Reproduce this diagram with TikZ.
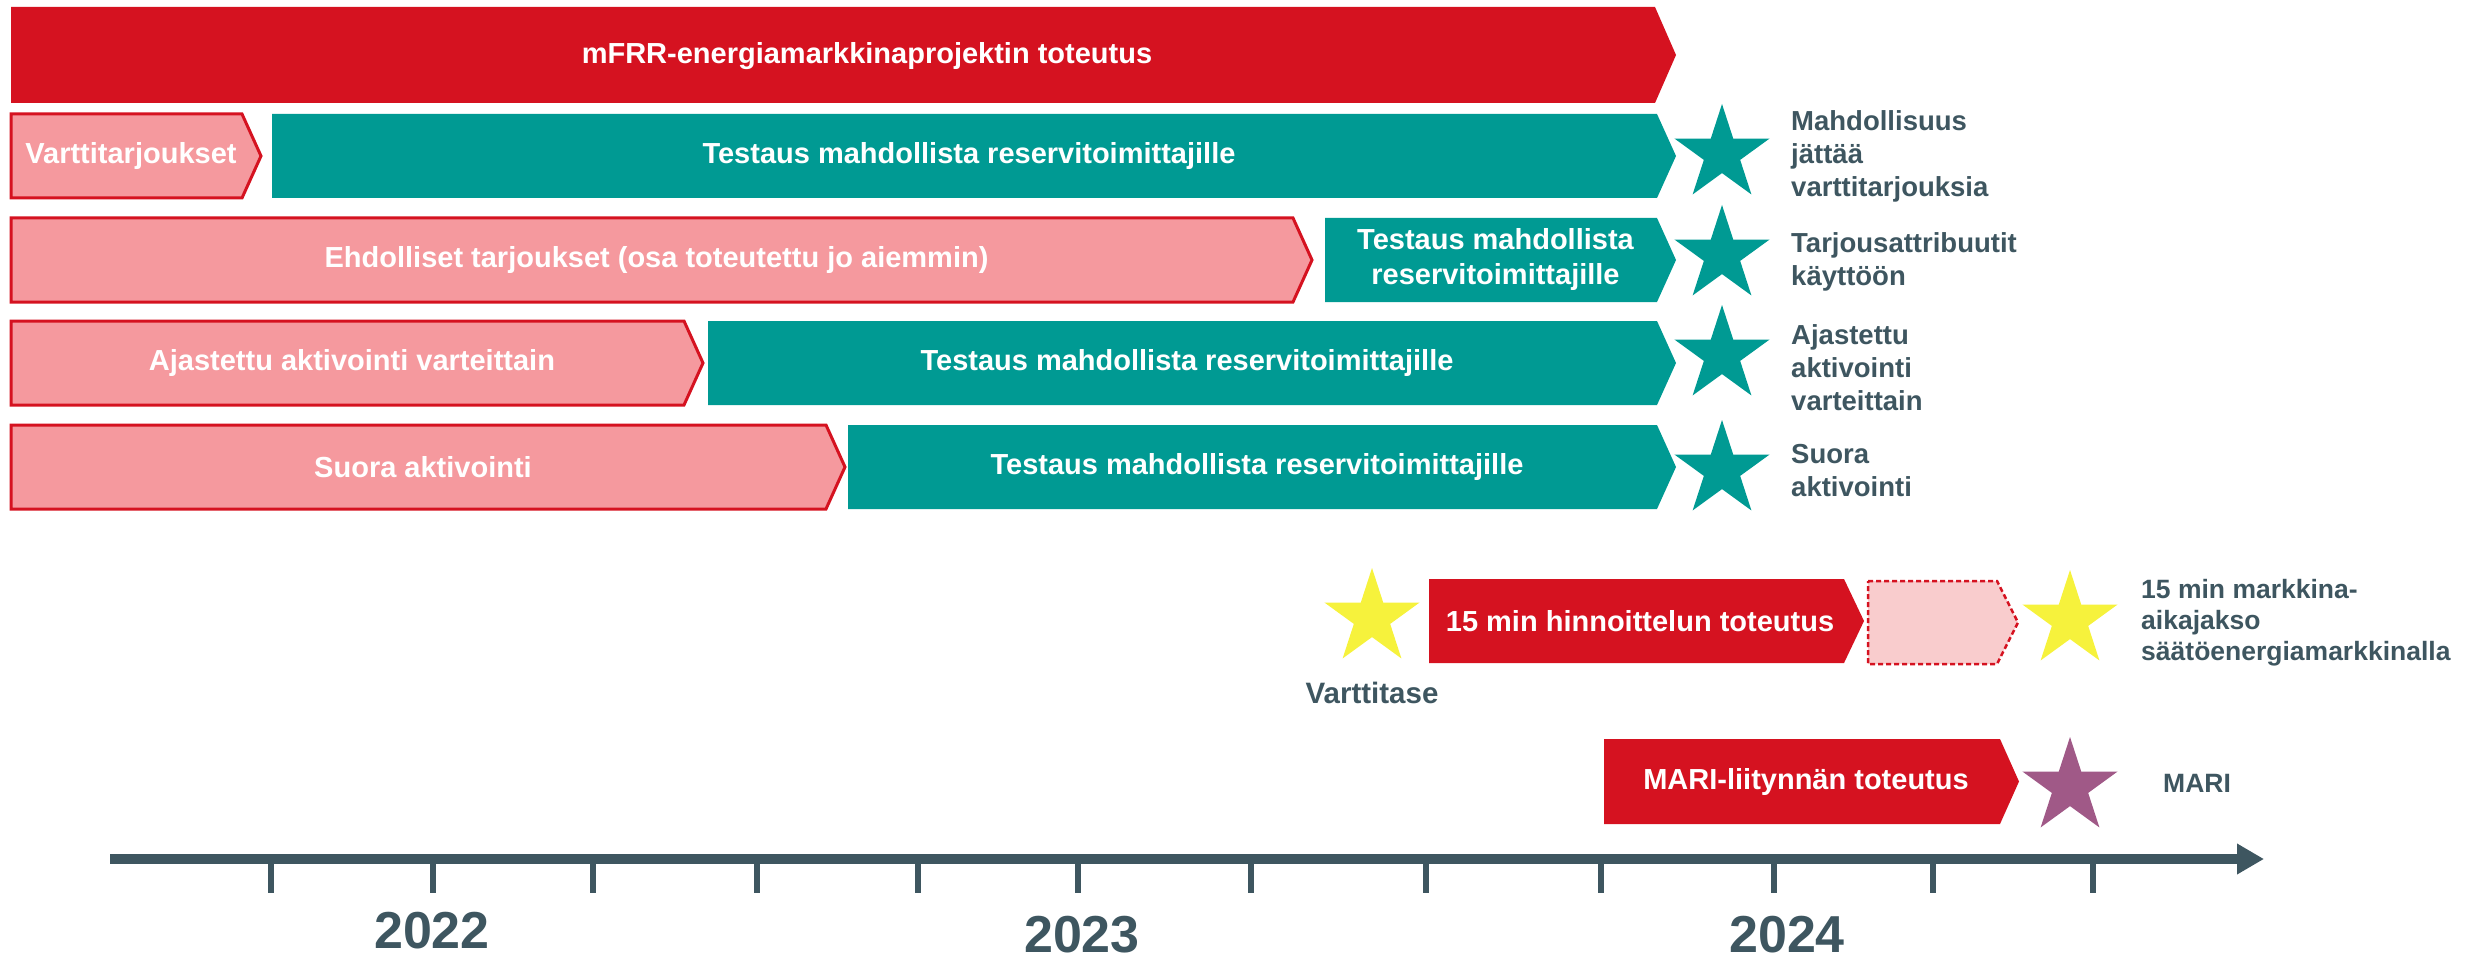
\documentclass[tikz,border=0pt]{standalone}
\usepackage{fontspec}
\setmainfont{Liberation Sans}
\usetikzlibrary{positioning, shapes.geometric, arrows.meta}
\definecolor{fgred}{RGB}{213, 18, 32}
\definecolor{fgteal}{RGB}{0, 154, 147}
\definecolor{fgpink}{RGB}{245, 153, 158}
\definecolor{fgpale}{RGB}{249, 204, 205}
\definecolor{fgyellow}{RGB}{246, 242, 60}
\definecolor{fgplum}{RGB}{160, 89, 135}
\definecolor{txtslate}{RGB}{62, 86, 96}

\begin{document}
\begin{tikzpicture}[
  x=1pt, y=-1pt,
  every node/.style={font=\bfseries},
  redbar/.style={fill=fgred, draw=none},
  tealbar/.style={fill=fgteal, draw=none},
  pinkbar/.style={fill=fgpink, draw=fgred, line width=3pt},
  palebar/.style={fill=fgpale, draw=fgred, line width=2.5pt, dash pattern=on 5pt off 3pt},
  bartxt/.style={text=white, font=\fontsize{29}{35}\selectfont\bfseries, align=center, inner sep=0pt},
  lbl/.style={text=txtslate, font=\fontsize{27.5}{33}\selectfont\bfseries, align=left, inner sep=0pt},
  lblsm/.style={lbl, font=\fontsize{26.5}{31}\selectfont\bfseries},
  yr/.style={text=txtslate, font=\fontsize{52}{60}\selectfont\bfseries, inner sep=0pt},
  mstar/.style={star, star points=5, star point ratio=2.618, minimum size=100pt,
    inner sep=0pt, fill=#1, draw=none},
  tick/.style={draw=txtslate, line width=6pt},
  axis/.style={draw=txtslate, line width=10pt, -{Triangle[length=27pt, width=29pt]}},
]

\useasboundingbox (0,0) rectangle (2468,960);

% Project bar
\draw[redbar] (11,7) -- (1655,7) -- (1676,55) -- (1655,103) -- (11,103) -- cycle;
\node[bartxt] (proj) at (867,56) {mFRR-energiamarkkinaprojektin toteutus};

% Implementation chevrons
\foreach \nm/\xb/\ya/\yb/\txt in {
  vt/242/114/198/Varttitarjoukset,
  eh/1293/218/302/{Ehdolliset tarjoukset (osa toteutettu jo aiemmin)},
  aj/684/321/405/{Ajastettu aktivointi varteittain},
  su/826/425/509/{Suora aktivointi}%
}{
  \draw[pinkbar] (11,\ya) -- (\xb,\ya) -- ({\xb+19},{(\ya+\yb)/2}) -- (\xb,\yb) -- (11,\yb) -- cycle;
  \node[bartxt] (\nm) at ({(20+\xb)/2},{(\ya+\yb)/2}) {\txt};
}

% Testing chevrons
\foreach \nm/\xa/\ya/\yb/\txt in {
  tvt/272/114/198/{Testaus mahdollista reservitoimittajille},
  teh/1325/218/302/{Testaus mahdollista\\reservitoimittajille},
  taj/708/321/405/{Testaus mahdollista reservitoimittajille},
  tsu/848/425/509/{Testaus mahdollista reservitoimittajille}%
}{
  \draw[tealbar] (\xa,\ya) -- (1657,\ya) -- (1676,{(\ya+\yb)/2}) -- (1657,\yb) -- (\xa,\yb) -- cycle;
  \node[bartxt] (\nm) at ({(\xa+1666)/2},{(\ya+\yb)/2}) {\txt};
}

% Milestones
\foreach \nm/\cy/\ly/\txt in {
  s1/154/156/{Mahdollisuus\\jättää\\varttitarjouksia},
  s2/255/262/{Tarjousattribuutit\\käyttöön},
  s3/355/368/{Ajastettu\\aktivointi\\varteittain},
  s4/470/471/{Suora\\aktivointi}%
}{
  \node[mstar=fgteal] (\nm) at (1722,\cy) {};
  \node[lbl, anchor=west] (l\nm) at (1791,\ly) {\txt};
}

% Quarter-hour pricing
\node[mstar=fgyellow] (vs) at (1372,618) {};
\node[lbl, font=\fontsize{29.5}{35}\selectfont\bfseries, below=45pt of vs] (lvs) {Varttitase};
\draw[redbar] (1429,579) -- (1844,579) -- (1864,621) -- (1844,663) -- (1429,663) -- cycle;
\node[bartxt] (qh) at (1640,621) {15 min hinnoittelun toteutus};
\draw[palebar] (1868,581) -- (1997,581) -- (2018,622.5) -- (1997,664) -- (1868,664) -- cycle;
\node[mstar=fgyellow] (mk) at (2070,620) {};
\node[lblsm, anchor=west] (lmk) at (2141,623) {15 min markkina-\\aikajakso\\säätöenergiamarkkinalla};

% MARI
\draw[redbar] (1604,739) -- (2000,739) -- (2019,781.5) -- (2000,824) -- (1604,824) -- cycle;
\node[bartxt] (mari) at (1806,782) {MARI-liitynnän toteutus};
\node[mstar=fgplum] (sm) at (2070,787) {};
\node[lblsm, anchor=west] (lsm) at (2163,783) {MARI};

% Time axis
\coordinate (ax0) at (110,859);
\coordinate (ax1) at (2264,859);
\draw[axis] (ax0) -- (ax1);
\foreach \tx in {271,433,593,757,918,1078,1251,1426,1601,1774,1933,2093}
  \draw[tick] (\tx,862) -- (\tx,893);
\node[yr] (y22) at (432,931) {2022};
\node[yr] (y23) at (1082,935) {2023};
\node[yr] (y24) at (1787,935) {2024};

\end{tikzpicture}
\end{document}
